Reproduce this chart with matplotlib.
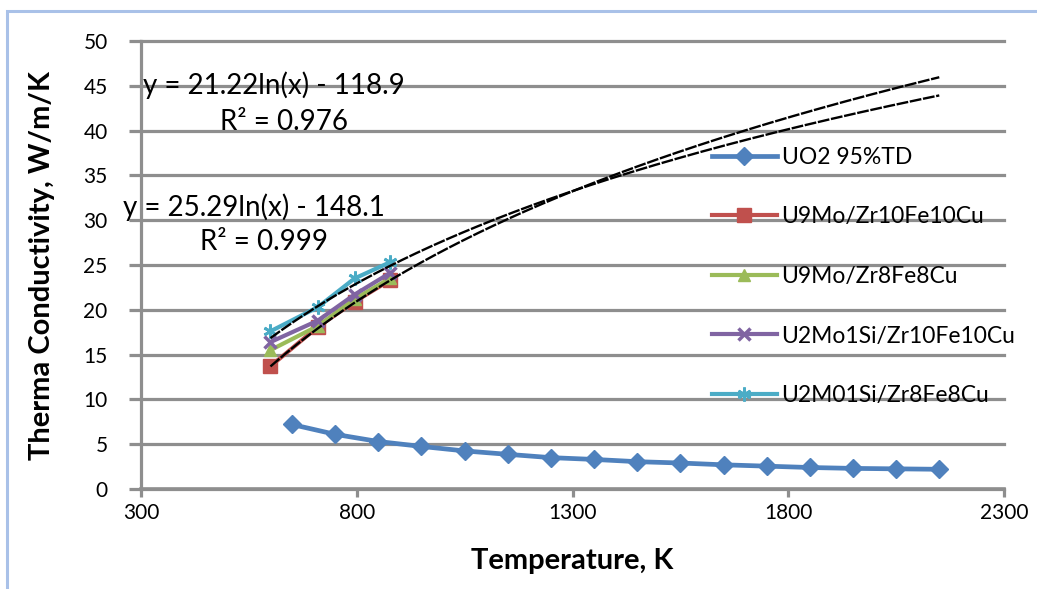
import matplotlib
matplotlib.use('Agg')
import matplotlib.pyplot as plt
import numpy as np
from matplotlib.patches import Rectangle

# ---- data ----
uo2_T = [650, 750, 850, 950, 1050, 1150, 1250, 1350, 1450, 1550, 1650, 1750, 1850, 1950, 2050, 2150]
uo2_k = [7.2, 6.1, 5.3, 4.75, 4.25, 3.87, 3.5, 3.3, 3.05, 2.9, 2.7, 2.55, 2.4, 2.3, 2.25, 2.2]

alloy_T = [600, 710, 795, 877]
u9mo_zr10 = [13.7, 18.1, 20.9, 23.3]
u9mo_zr8 = [15.5, 18.2, 21.2, 23.5]
u2mo_zr10 = [16.4, 18.8, 21.7, 24.1]
u2mo_zr8 = [17.6, 20.3, 23.5, 25.3]

labels = ["UO2 95%TD", "U9Mo/Zr10Fe10Cu", "U9Mo/Zr8Fe8Cu",
          "U2Mo1Si/Zr10Fe10Cu", "U2M01Si/Zr8Fe8Cu"]

# trendline equations shown on chart: k = a*ln(T) + b
trend1_a, trend1_b = 21.22, -118.9
trend2_a, trend2_b = 25.29, -148.1
trend_T_range = [600, 2150]

x_ticks = [300, 800, 1300, 1800, 2300]
y_ticks = list(range(0, 51, 5))

# ---- figure ----
plt.rcParams['font.family'] = ['Lato', 'DejaVu Sans']
W, H = 1037, 589
fig = plt.figure(figsize=(W / 100, H / 100), dpi=100)
ax = fig.add_axes([141 / W, 1 - 489 / H, (1004 - 141) / W, (489 - 41) / H])

grid_c = '#8e8e8e'
ax.set_xlim(300, 2300)
ax.set_ylim(0, 50)
ax.set_xticks(x_ticks)
ax.set_yticks(y_ticks)
ax.yaxis.grid(True, color=grid_c, lw=2.3)
ax.xaxis.grid(False)
ax.set_axisbelow(True)
for gl in ax.get_ygridlines():
    gl.set_clip_on(False)
for s in ['top', 'right']:
    ax.spines[s].set_visible(False)
ax.spines['left'].set_color(grid_c)
ax.spines['left'].set_linewidth(2.3)
ax.spines['bottom'].set_color(grid_c)
ax.spines['bottom'].set_linewidth(2.6)
ax.tick_params(axis='y', direction='out', length=9, width=2.3, color=grid_c,
               pad=15, labelsize=15)
ax.tick_params(axis='x', direction='out', length=6, width=2.3, color=grid_c,
               pad=4, labelsize=15)

# series
l1, = ax.plot(uo2_T, uo2_k, color='#4f81bd', lw=3.4, marker='D', ms=9, zorder=3)
l2, = ax.plot(alloy_T, u9mo_zr10, color='#c0504d', lw=3, marker='s', ms=10, zorder=3)
l3, = ax.plot(alloy_T, u9mo_zr8, color='#9bbb59', lw=3, marker='^', ms=8, zorder=3)
l4, = ax.plot(alloy_T, u2mo_zr10, color='#8064a2', lw=3, marker='x', ms=8, mew=2.5, zorder=3)
l5, = ax.plot(alloy_T, u2mo_zr8, color='#4bacc6', lw=3, marker=(6, 2, 0), ms=10, mew=2, zorder=3)

# trendlines
tt = np.linspace(trend_T_range[0], trend_T_range[1], 300)
ax.plot(tt, trend1_a * np.log(tt) + trend1_b, color='black', lw=1.7,
        ls=(0, (5, 0.7)), zorder=4)
ax.plot(tt, trend2_a * np.log(tt) + trend2_b, color='black', lw=1.7,
        ls=(0, (5, 0.7)), zorder=4)

# equation labels
fs_eq = 20
ax.text(305, 45.1, "y = 21.22ln(x) - 118.9", fontsize=fs_eq, ha='left', va='center', clip_on=False)
ax.text(632, 41.0, "R² = 0.976", fontsize=fs_eq, ha='center', va='center', clip_on=False)
ax.text(259, 31.5, "y = 25.29ln(x) - 148.1", fontsize=fs_eq, ha='left', va='center', clip_on=False)
ax.text(585, 27.6, "R² = 0.999", fontsize=fs_eq, ha='center', va='center', clip_on=False)

# axis labels
fig.text(42 / W, 1 - 265 / H, "Therma Conductivity, W/m/K", rotation=90,
         fontsize=21, fontweight='bold', ha='center', va='center')
fig.text(572 / W, 1 - 561 / H, "Temperature, K", fontsize=21, fontweight='bold',
         ha='center', va='center')

# legend
leg = ax.legend([l1, l2, l3, l4, l5], labels, loc='upper left',
                bbox_to_anchor=(711.7 / W, 1 - 147 / H), bbox_transform=fig.transFigure,
                frameon=False, fontsize=16.5, handlelength=2.85, handletextpad=0.2,
                labelspacing=1.68, borderpad=0, borderaxespad=0)

# chart border
fig.add_artist(Rectangle((7 / W, -0.1), 1.2, 1 - 11 / H + 0.1, transform=fig.transFigure,
                         fill=False, edgecolor='#a9c1e8', lw=2.2, clip_on=False))

fig.savefig('out.png', dpi=100)
